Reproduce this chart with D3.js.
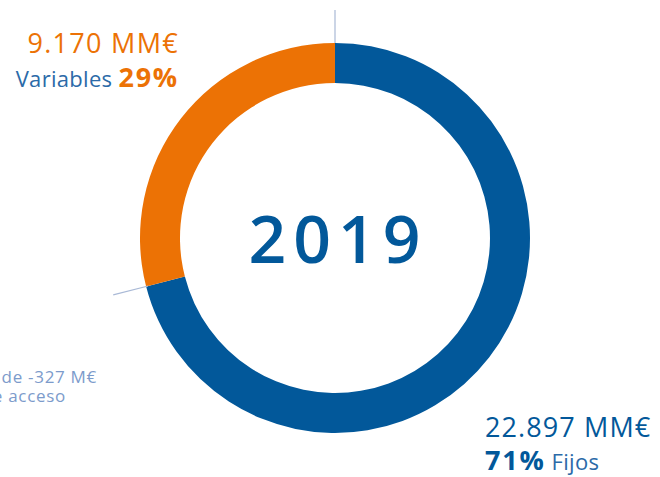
<!DOCTYPE html>
<html>
<head>
<meta charset="utf-8">
<script src="https://cdn.jsdelivr.net/npm/d3@7"></script>
<style>
  html, body { margin: 0; padding: 0; background: #fff; }
  svg { display: block; font-family: "Open Sans", "Noto Sans", sans-serif; }
</style>
</head>
<body>
<svg id="chart" width="660" height="477"></svg>
<script>
// Cost structure 2019: fixed vs variable
const categories = ["Fijos", "Variables"];
const amountLabels = ["22.897 MM€", "9.170 MM€"];
const shares = [71, 29];
const yearLabel = "2019";
const noteLines = ["de -327 M€", "e acceso"];

const colors = { Fijos: "#02589a", Variables: "#ec7205" };
const textBlue = "#2b6aa8";
const noteColor = "#7c9bcb";
const leaderColor = "#a9b9d6";

const svg = d3.select("#chart");
const cx = 335, cy = 238, outerR = 195, innerR = 155;

const pie = d3.pie().sort(null).value(d => d.value);
const arcs = pie(categories.map((c, i) => ({ name: c, value: shares[i] })));
const arc = d3.arc().innerRadius(innerR).outerRadius(outerR);

const g = svg.append("g").attr("transform", `translate(${cx},${cy})`);

g.selectAll("path.slice")
  .data(arcs)
  .join("path")
  .attr("class", "slice")
  .attr("d", arc)
  .attr("fill", d => colors[d.data.name]);

// leader lines at the slice boundaries
const pt = (angle, r) => [r * Math.sin(angle), -r * Math.cos(angle)];
const top0 = pt(0, outerR), top1 = pt(0, outerR + 33);
g.append("line")
  .attr("x1", top0[0]).attr("y1", top0[1])
  .attr("x2", top1[0]).attr("y2", top1[1])
  .attr("stroke", leaderColor).attr("stroke-width", 1.2);

const b = arcs[1].startAngle;
const b0 = pt(b, outerR - 2), b1 = pt(b, outerR + 34);
g.append("line")
  .attr("x1", b0[0]).attr("y1", b0[1])
  .attr("x2", b1[0]).attr("y2", b1[1])
  .attr("stroke", leaderColor).attr("stroke-width", 1.2);

// centre year
g.append("text")
  .attr("x", 3).attr("y", 25)
  .attr("text-anchor", "middle")
  .attr("font-size", 66)
  .attr("font-weight", 600)
  .attr("letter-spacing", 7)
  .attr("fill", colors.Fijos)
  .text(yearLabel);

// Variables label (top left)
svg.append("text")
  .attr("x", 179).attr("y", 53)
  .attr("text-anchor", "end")
  .attr("font-size", 27)
  .attr("letter-spacing", 1.3)
  .attr("fill", colors.Variables)
  .text(amountLabels[1]);

const vLine = svg.append("text")
  .attr("x", 179).attr("y", 87)
  .attr("text-anchor", "end");
vLine.append("tspan")
  .attr("font-size", 22).attr("letter-spacing", 0.3).attr("fill", textBlue)
  .text(categories[1] + " ");
vLine.append("tspan")
  .attr("font-size", 27).attr("font-weight", 700).attr("letter-spacing", 1.8)
  .attr("fill", colors.Variables)
  .text(shares[1] + "%");

// Fijos label (bottom right)
svg.append("text")
  .attr("x", 485).attr("y", 437)
  .attr("font-size", 27)
  .attr("letter-spacing", 1.1)
  .attr("fill", colors.Fijos)
  .text(amountLabels[0]);

const fLine = svg.append("text")
  .attr("x", 485).attr("y", 470);
fLine.append("tspan")
  .attr("font-size", 27).attr("font-weight", 700).attr("letter-spacing", 1.8)
  .attr("fill", colors.Fijos)
  .text(shares[0] + "%");
fLine.append("tspan")
  .attr("font-size", 22).attr("letter-spacing", 0.3).attr("fill", textBlue)
  .attr("dx", 6)
  .text(categories[0]);

// side note
svg.selectAll("text.note")
  .data(noteLines)
  .join("text")
  .attr("class", "note")
  .attr("x", (d, i) => i === 0 ? 97 : 66)
  .attr("y", (d, i) => 383 + i * 19)
  .attr("text-anchor", "end")
  .attr("font-size", 17)
  .attr("letter-spacing", 0.7)
  .attr("fill", noteColor)
  .text(d => d);
</script>
</body>
</html>
